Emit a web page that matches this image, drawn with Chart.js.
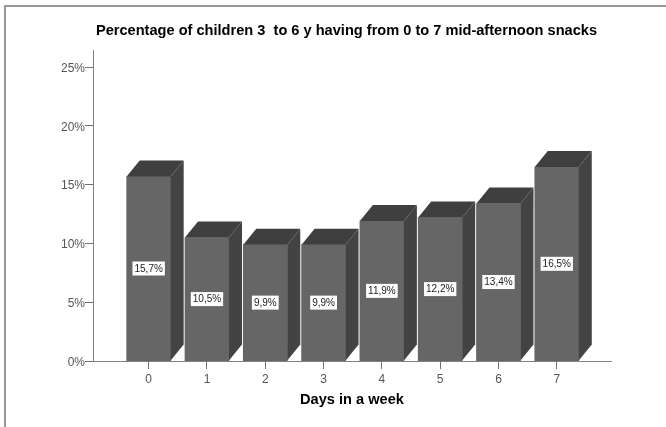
<!DOCTYPE html>
<html>
<head>
<meta charset="utf-8">
<title>Mid-afternoon snacks</title>
<script src="https://cdn.jsdelivr.net/npm/chart.js@4"></script>
<style>
    html, body { margin: 0; padding: 0; background: #fff; overflow: hidden; }
    #frame { position: absolute; left: 0; top: 0; width: 666px; height: 427px; }
    #marco { position: absolute; left: 4px; top: 5px; width: 662px; height: 422px; border-left: 2px solid #999; border-top: 2px solid #999; box-sizing: border-box; }
</style>
</head>
<body>
<div id="marco"></div>
<div id="frame"><canvas id="snacksChart" width="666" height="427"></canvas></div>
<script>
// Datos
const dias = [0, 1, 2, 3, 4, 5, 6, 7];
const porcentajes = [15.7, 10.5, 9.9, 9.9, 11.9, 12.2, 13.4, 16.5];
const etiquetas = ['15,7%', '10,5%', '9,9%', '9,9%', '11,9%', '12,2%', '13,4%', '16,5%'];
const ticksY = [0, 5, 10, 15, 20, 25];
const titulo = 'Percentage of children 3  to 6 y having from 0 to 7 mid-afternoon snacks';

const fuente = '"Liberation Sans", Arial, sans-serif';

// Titulo y caras laterales/superiores de las barras (efecto 3D)
const barras3d = {
    id: 'barras3d',
    afterDatasetsDraw(chart) {
        const ctx = chart.ctx;
        const dx = 13, dy = 16;

        ctx.save();
        ctx.font = 'bold 14.6px ' + fuente;
        ctx.fillStyle = '#000';
        ctx.textAlign = 'center';
        ctx.textBaseline = 'middle';
        ctx.fillText(titulo, 346.5, 31);
        ctx.restore();

        chart.getDatasetMeta(0).data.forEach((bar, i) => {
            const izq = bar.x - bar.width / 2;
            const der = bar.x + bar.width / 2;
            ctx.save();
            ctx.fillStyle = '#3f3f3f';
            ctx.beginPath();
            ctx.moveTo(izq, bar.y);
            ctx.lineTo(izq + dx, bar.y - dy);
            ctx.lineTo(der + dx, bar.y - dy);
            ctx.lineTo(der, bar.y);
            ctx.closePath();
            ctx.fill();
            ctx.fillStyle = '#434343';
            ctx.beginPath();
            ctx.moveTo(der, bar.y);
            ctx.lineTo(der + dx, bar.y - dy);
            ctx.lineTo(der + dx, bar.base - dy);
            ctx.lineTo(der, bar.base);
            ctx.closePath();
            ctx.fill();

            // Etiqueta blanca en el centro de la barra
            const cy = (bar.y + bar.base) / 2;
            ctx.font = '10px ' + fuente;
            const w = ctx.measureText(etiquetas[i]).width + 4;
            ctx.fillStyle = '#fff';
            ctx.fillRect(bar.x - w / 2, cy - 7, w, 14);
            ctx.fillStyle = '#222';
            ctx.textAlign = 'center';
            ctx.textBaseline = 'middle';
            ctx.fillText(etiquetas[i], bar.x, cy + 0.5);
            ctx.restore();
        });
    }
};

const ctx = document.getElementById('snacksChart').getContext('2d');
new Chart(ctx, {
    type: 'bar',
    data: {
        labels: dias,
        datasets: [{
            data: porcentajes,
            backgroundColor: '#666666',
            borderWidth: 0,
            barThickness: 44
        }]
    },
    options: {
        responsive: false,
        animation: false,
        layout: { padding: { left: 0, right: 55, top: 50, bottom: 18 } },
        plugins: {
            legend: { display: false },
            tooltip: { enabled: false }
        },
        scales: {
            x: {
                type: 'linear',
                offset: false,
                min: -0.955,
                max: 7.93,
                afterBuildTicks(axis) { axis.ticks = dias.map(d => ({ value: d })); },
                grid: { display: true, offset: false, drawOnChartArea: false, drawTicks: true, tickLength: 8, tickColor: '#707070' },
                border: { color: '#808080', width: 1 },
                ticks: { color: '#555', autoSkip: false, maxRotation: 0, padding: 3, font: { family: fuente, size: 12 }, callback: v => String(v) },
                title: {
                    display: true,
                    text: 'Days in a week',
                    color: '#000',
                    font: { family: fuente, size: 14.6, weight: 'bold' },
                    padding: { top: 2, bottom: 0 }
                }
            },
            y: {
                min: 0,
                max: 26.45,
                afterBuildTicks(axis) { axis.ticks = ticksY.map(v => ({ value: v })); },
                afterFit(axis) { axis.width = 93; },
                grid: { display: true, drawOnChartArea: false, drawTicks: true, tickLength: 8, tickColor: '#707070' },
                border: { color: '#808080', width: 1 },
                ticks: { color: '#555', padding: 0, labelOffset: 1.5, font: { family: fuente, size: 12 }, callback: v => v + '%' }
            }
        }
    },
    plugins: [barras3d]
});
</script>
</body>
</html>
